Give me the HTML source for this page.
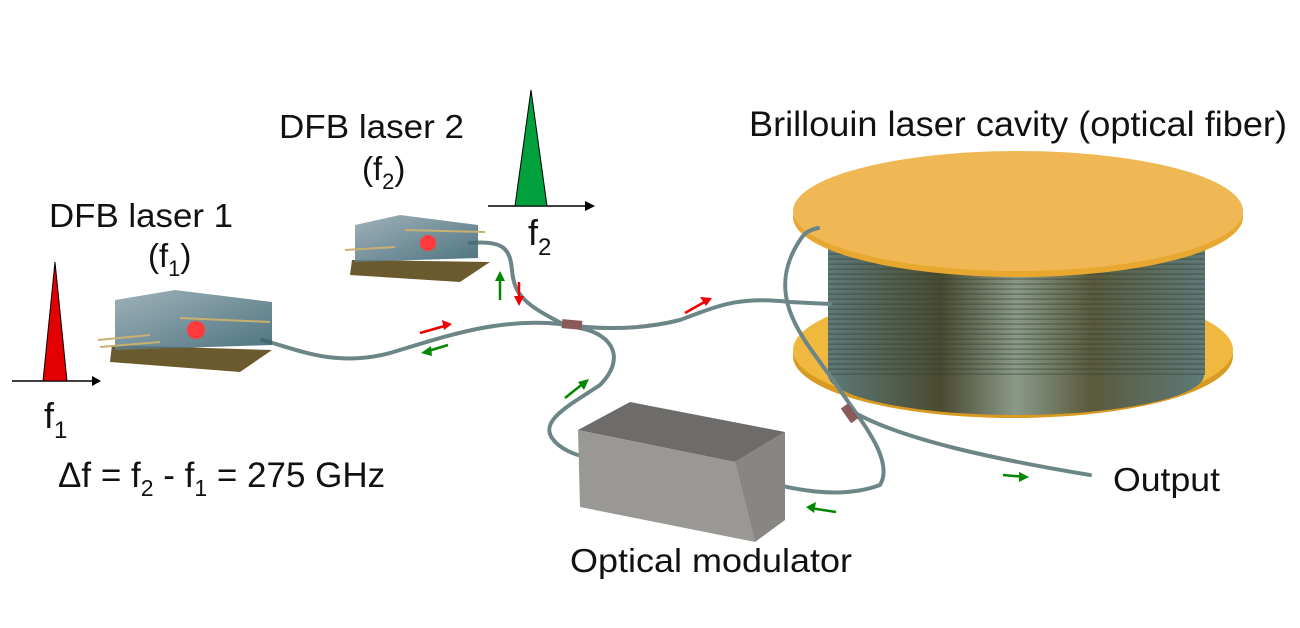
<!DOCTYPE html>
<html><head><meta charset="utf-8"><style>
html,body{margin:0;padding:0;background:#fff}
svg{display:block}
text{font-family:"Liberation Sans",Arial,sans-serif;fill:#111}
</style></head><body>
<svg width="1300" height="628" viewBox="0 0 1300 628" xmlns="http://www.w3.org/2000/svg">
<defs>
<linearGradient id="coil" x1="0" x2="1" y1="0" y2="0">
<stop offset="0" stop-color="#5d7a78"/><stop offset="0.3" stop-color="#4a4a30"/><stop offset="0.5" stop-color="#8a9a88"/><stop offset="0.7" stop-color="#5a5a3c"/><stop offset="1" stop-color="#5d7a78"/>
</linearGradient>
<pattern id="wind" width="10" height="5" patternUnits="userSpaceOnUse"><rect y="3.5" width="10" height="1.2" fill="#2e3a30" opacity="0.5"/></pattern>
<linearGradient id="chip" x1="0" y1="0" x2="1" y2="1"><stop offset="0" stop-color="#8fa4ad"/><stop offset="1" stop-color="#2f5c6a"/></linearGradient>
</defs>

<line x1="12" y1="381" x2="92" y2="381" stroke="#000" stroke-width="1.6"/>
<path d="M92,376 L101,381 L92,386 z" fill="#000"/>
<path d="M43,381 L55,262 L67,381 z" fill="#e30000" stroke="#000" stroke-width="1"/>
<line x1="488" y1="206" x2="585" y2="206" stroke="#000" stroke-width="1.6"/>
<path d="M585,201 L595,206 L585,211 z" fill="#000"/>
<path d="M515,206 L531,90 L547,206 z" fill="#00a03c" stroke="#000" stroke-width="1"/>

<ellipse cx="1013" cy="356" rx="220" ry="62" fill="#d89a20"/>
<ellipse cx="1013" cy="350" rx="220" ry="62" fill="#f0b83e"/>
<rect x="828" y="215" width="377" height="160" fill="url(#coil)"/>
<ellipse cx="1016" cy="375" rx="188" ry="40" fill="url(#coil)"/>
<rect x="828" y="215" width="377" height="160" fill="url(#wind)"/>
<ellipse cx="1018" cy="217" rx="225" ry="60" fill="#e8a830"/>
<ellipse cx="1018" cy="211" rx="225" ry="60" fill="#f0b854"/>

<g fill="none" stroke="#6c8688" stroke-width="4" stroke-linecap="round">
<path d="M262,340 C300,350 340,370 400,350 C450,335 500,318 560,324 C600,330 640,330 680,320 C720,305 740,296 790,302 L830,304"/>
<path d="M470,243 C505,240 510,250 512,270 C514,295 525,305 565,325"/>
<path d="M580,328 C615,335 625,360 600,385 C570,405 540,420 552,438 C560,450 578,455 578,455"/>
<path d="M745,476 C790,490 840,500 880,485 C895,460 860,420 840,390 C810,345 760,300 800,240 C805,232 810,230 818,228"/>
<path d="M850,410 C900,440 1000,460 1090,475"/>
</g>
<rect x="562" y="320" width="20" height="9" fill="#8a5a5a" transform="rotate(5 572 324)"/>
<rect x="845" y="404" width="9" height="18" fill="#8a5a5a" transform="rotate(-35 850 413)"/>

<g>
<polygon points="112,345 272,350 240,372 110,362" fill="#6b5a2e"/>
<polygon points="115,300 175,290 272,302 272,345 115,350" fill="url(#chip)" opacity="0.85"/>
<circle cx="196" cy="330" r="9" fill="#ff3a3a"/>
<g stroke="#c8b070" stroke-width="2"><line x1="180" y1="318" x2="270" y2="322"/><line x1="98" y1="340" x2="150" y2="335"/><line x1="100" y1="347" x2="160" y2="342"/></g>
</g>
<g>
<polygon points="352,260 490,262 460,282 350,275" fill="#6b5a2e"/>
<polygon points="355,225 400,215 478,225 478,258 355,262" fill="url(#chip)" opacity="0.85"/>
<circle cx="428" cy="243" r="8" fill="#ff3a3a"/>
<g stroke="#c8b070" stroke-width="2"><line x1="405" y1="230" x2="485" y2="232"/><line x1="345" y1="250" x2="395" y2="247"/></g>
</g>

<polygon points="578,430 630,402 785,432 735,462" fill="#6e6c6a"/>
<polygon points="578,430 735,462 755,542 580,507" fill="#9a9894"/>
<polygon points="735,462 785,432 785,520 755,542" fill="#888682"/>

<g stroke-width="2.5" fill="none">
<path d="M420,333 L448,325" stroke="#e00"/><path d="M685,313 L708,300" stroke="#e00"/><path d="M519,282 L519,302" stroke="#e00"/>
<path d="M448,345 L425,352" stroke="#080"/><path d="M500,300 L500,275" stroke="#080"/><path d="M565,398 L585,382" stroke="#080"/><path d="M836,512 L810,508" stroke="#080"/><path d="M1003,475 L1025,477" stroke="#080"/>
</g>
<g stroke="none">
<path d="M452,324 L442,320 L444,330 z" fill="#e00"/><path d="M712,298 L700,297 L706,306 z" fill="#e00"/><path d="M519,306 L514,296 L524,296 z" fill="#e00"/>
<path d="M421,353 L431,346 L432,356 z" fill="#080"/><path d="M500,271 L495,281 L505,281 z" fill="#080"/><path d="M589,379 L578,382 L584,390 z" fill="#080"/><path d="M806,507 L816,502 L814,513 z" fill="#080"/><path d="M1029,477 L1019,472 L1019,482 z" fill="#080"/>
</g>

<text x="49" y="227" font-size="33" textLength="184" lengthAdjust="spacingAndGlyphs">DFB laser 1</text>
<text x="148" y="267" font-size="33">(f<tspan font-size="22" dy="9">1</tspan><tspan dy="-9">)</tspan></text>
<text x="279" y="138" font-size="33" textLength="185" lengthAdjust="spacingAndGlyphs">DFB laser 2</text>
<text x="362" y="180" font-size="33">(f<tspan font-size="22" dy="9">2</tspan><tspan dy="-9">)</tspan></text>
<text x="528" y="245" font-size="36">f<tspan font-size="24" dy="10">2</tspan></text>
<text x="44" y="428" font-size="36">f<tspan font-size="24" dy="10">1</tspan></text>
<text x="58" y="487" font-size="35">Δf = f<tspan font-size="23" dy="9">2</tspan><tspan dy="-9"> - f</tspan><tspan font-size="23" dy="9">1</tspan><tspan dy="-9"> = 275 GHz</tspan></text>
<text x="749" y="136" font-size="35" textLength="538" lengthAdjust="spacingAndGlyphs">Brillouin laser cavity (optical fiber)</text>
<text x="1113" y="491" font-size="33" textLength="107" lengthAdjust="spacingAndGlyphs">Output</text>
<text x="570" y="572" font-size="33" textLength="282" lengthAdjust="spacingAndGlyphs">Optical modulator</text>
</svg>
</body></html>
